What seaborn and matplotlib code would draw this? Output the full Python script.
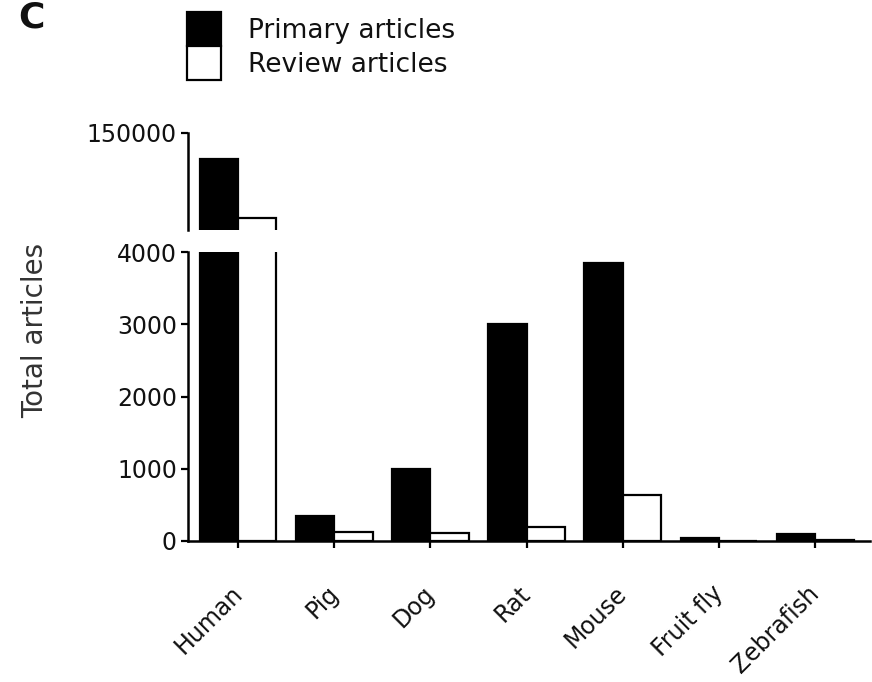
import matplotlib
matplotlib.use("Agg")
import matplotlib.pyplot as plt
import matplotlib.transforms as mtransforms
from matplotlib.patches import Patch
import seaborn as sns
import pandas as pd

# Article counts per model organism
species = ["Human", "Pig", "Dog", "Rat", "Mouse", "Fruit fly", "Zebrafish"]
primary = [112000, 350, 1000, 3000, 3850, 40, 90]
review = [27000, 120, 110, 200, 640, 5, 10]
series = ["Primary articles", "Review articles"]

df = pd.DataFrame({
    "species": species * 2,
    "count": primary + review,
    "type": [series[0]] * len(species) + [series[1]] * len(species),
})

sns.set_theme(style="white")
plt.rcParams["font.family"] = ["DejaVu Sans"]
plt.rcParams["text.color"] = "#111111"

fig = plt.figure(figsize=(8.72, 6.82), dpi=100)
left, width = 188 / 872, 682 / 872
ax_top = fig.add_axes([left, 1 - 230 / 682, width, 97 / 682])
ax_bot = fig.add_axes([left, 1 - 541 / 682, width, 289 / 682])

palette = {series[0]: "black", series[1]: "white"}
for ax in (ax_top, ax_bot):
    sns.barplot(data=df, x="species", y="count", hue="type", hue_order=series,
                palette=palette, edgecolor="black", linewidth=1.6,
                width=0.8, saturation=1, legend=False, ax=ax)
    ax.set_xlim(-0.52, 6.57)
    ax.set_xlabel("")
    ax.set_ylabel("")
    for s in ("top", "right"):
        ax.spines[s].set_visible(False)
    for s in ("left", "bottom"):
        ax.spines[s].set_linewidth(1.8)
        ax.spines[s].set_color("black")
    ax.tick_params(axis="both", direction="out", length=5, width=1.6,
                   color="black", labelsize=17, labelcolor="#111111", pad=3)
    ax.tick_params(axis="y", left=True)

# upper segment of the broken axis
ax_top.set_ylim(10000, 150000)
ax_top.set_yticks([150000])
ax_top.spines["bottom"].set_visible(False)
ax_top.tick_params(axis="x", bottom=False, labelbottom=False)

# lower segment
ax_bot.set_ylim(0, 4000)
ax_bot.set_yticks([0, 1000, 2000, 3000, 4000])
ax_bot.tick_params(axis="x", bottom=True, pad=24)
ax_bot.set_xticks(range(len(species)))
ax_bot.set_xticklabels(species, rotation=45, ha="right")
shift = mtransforms.ScaledTranslation(9 / 100, 0, fig.dpi_scale_trans)
for lbl in ax_bot.get_xticklabels():
    lbl.set_transform(lbl.get_transform() + shift)

fig.text(35 / 872, 1 - 330 / 682, "Total articles", rotation=90,
         ha="center", va="center", fontsize=20, color="#333333")

# legend
handles = [Patch(facecolor="black", edgecolor="black", linewidth=1.6),
           Patch(facecolor="white", edgecolor="black", linewidth=1.6)]
fig.legend(handles, series, loc="upper left",
           bbox_to_anchor=(187 / 872, 1 - 12 / 682), frameon=False,
           fontsize=19, handlelength=1.3, handleheight=1.6,
           handletextpad=1.0, labelspacing=0.02, borderpad=0,
           borderaxespad=0, labelcolor="#111111")

fig.text(18 / 872, 1 - 1 / 682, "C", fontsize=26, fontweight="bold",
         ha="left", va="top")

fig.savefig("out.png", dpi=100)
